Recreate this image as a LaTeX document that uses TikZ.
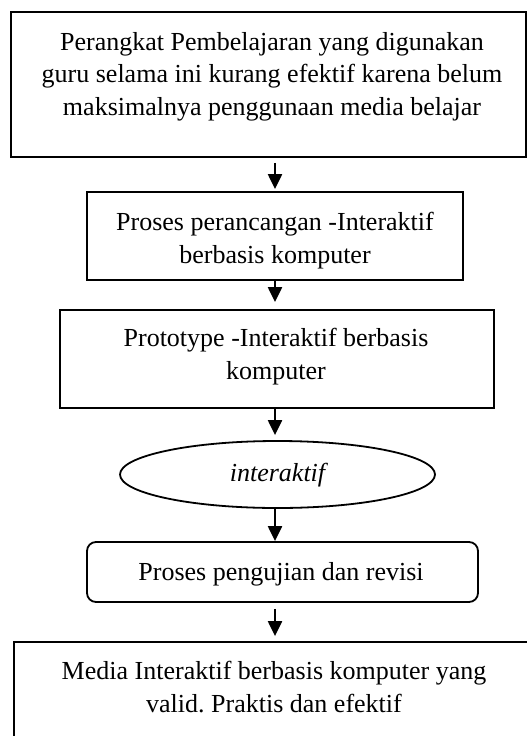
\documentclass[tikz,border=0pt]{standalone}
\usepackage{fontspec}
\setmainfont{Liberation Serif}
\usetikzlibrary{arrows.meta,shapes.geometric}
\frenchspacing
\begin{document}
\begin{tikzpicture}[x=1bp,y=-1bp,
  box/.style={draw=black,line width=1.8bp,rectangle,inner sep=0pt},
  rbox/.style={box,rounded corners=9bp},
  oval/.style={draw=black,line width=1.8bp,ellipse,inner sep=0pt},
  txt/.style={align=center,inner sep=0pt,font=\fontsize{26bp}{32.5bp}\selectfont},
  arr/.style={line width=2.2bp,-{Triangle[width=14bp,length=15bp]}}]
\useasboundingbox (0,0) rectangle (527,736);
% boxes
\node[box,minimum width=515bp,minimum height=145bp] (b1) at (268.5,84.5) {};
\node[box,minimum width=376bp,minimum height=88bp] (b2) at (275,236) {};
\node[box,minimum width=434bp,minimum height=98bp] (b3) at (277,359) {};
\node[oval,minimum width=315bp,minimum height=67bp] (e1) at (277.5,474.5) {};
\node[rbox,minimum width=391bp,minimum height=60bp] (b4) at (282.5,572) {};
\node[box,minimum width=540bp,minimum height=130bp] (b5) at (284,707) {};
% texts (anchor=base is the baseline of the last line)
\node[txt,anchor=base] (t1) at (272,115.4) {Perangkat Pembelajaran yang digunakan\\guru selama ini kurang efektif karena belum\\maksimalnya penggunaan media belajar};
\node[txt,anchor=base] (t2) at (275,263) {Proses perancangan -Interaktif\\berbasis komputer};
\node[txt,anchor=base] (t3) at (276,379) {Prototype -Interaktif berbasis\\komputer};
\node[txt,anchor=base,font=\fontsize{26bp}{32.5bp}\selectfont\itshape] (t4) at (277.5,481.7) {interaktif};
\node[txt,anchor=base] (t5) at (281,580) {Proses pengujian dan revisi};
\node[txt,anchor=base] (t6) at (274,712) {Media Interaktif berbasis komputer yang\\valid. Praktis dan efektif};
% arrows
\coordinate (ax) at (275,0);
\draw[arr,shorten <=5bp,shorten >=2bp] (b1.south -| ax) -- (b2.north -| ax);
\draw[arr,shorten >=7bp] (b2.south -| ax) -- (b3.north -| ax);
\draw[arr,shorten >=5bp] (b3.south -| ax) -- (e1.north -| ax);
\draw[arr] (e1.south -| ax) -- (b4.north -| ax);
\draw[arr,shorten <=6bp,shorten >=5bp] (b4.south -| ax) -- (b5.north -| ax);
\end{tikzpicture}
\end{document}
